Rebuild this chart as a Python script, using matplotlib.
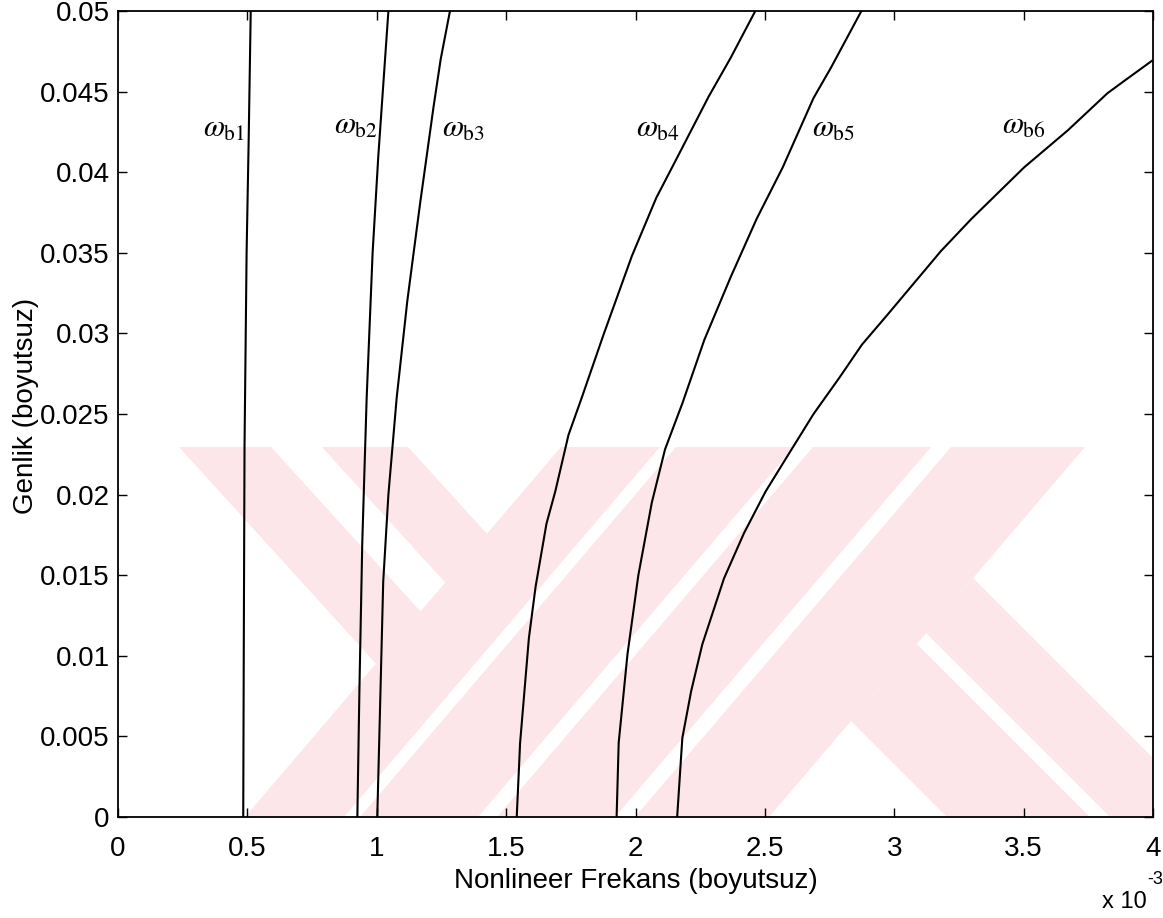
import numpy as np
import matplotlib
matplotlib.use('Agg')
import matplotlib.pyplot as plt
from matplotlib.patches import Polygon

plt.rcParams['font.family'] = ['Liberation Sans', 'DejaVu Sans']
plt.rcParams['mathtext.fontset'] = 'stix'

# nonlinear frequency (x 1e-3) against amplitude, one branch per mode
amp_b1 = [0.0, 0.010, 0.023, 0.035, 0.042, 0.050]
frq_b1 = [0.484, 0.486, 0.489, 0.497, 0.505, 0.513]

amp_b2 = [0.0, 0.0079, 0.0170, 0.0260, 0.0350, 0.0410, 0.0470, 0.050]
frq_b2 = [0.925, 0.933, 0.944, 0.961, 0.984, 1.006, 1.032, 1.045]

amp_b3 = [0.0, 0.0050, 0.0146, 0.0200, 0.0260, 0.0320, 0.0380, 0.0440, 0.0470, 0.050]
frq_b3 = [1.002, 1.010, 1.025, 1.045, 1.077, 1.118, 1.167, 1.219, 1.247, 1.283]

amp_b4 = [0.0, 0.0046, 0.0111, 0.0143, 0.0182, 0.0202, 0.0237, 0.0260, 0.0299,
          0.0348, 0.0384, 0.0410, 0.0447, 0.0471, 0.050]
frq_b4 = [1.541, 1.554, 1.588, 1.614, 1.656, 1.690, 1.741, 1.792, 1.876,
          1.986, 2.080, 2.164, 2.283, 2.368, 2.463]

amp_b5 = [0.0, 0.0046, 0.0101, 0.0150, 0.0195, 0.0228, 0.0257, 0.0296, 0.0335,
          0.0371, 0.0403, 0.0446, 0.0465, 0.050]
frq_b5 = [1.927, 1.935, 1.969, 2.011, 2.063, 2.114, 2.182, 2.266, 2.368,
          2.468, 2.569, 2.688, 2.756, 2.873]

amp_b6 = [0.0, 0.0049, 0.0078, 0.0107, 0.0148, 0.0176, 0.0202, 0.0228, 0.0250,
          0.0273, 0.0293, 0.0312, 0.0351, 0.0371, 0.0403, 0.0426, 0.0449, 0.0457, 0.0469]
frq_b6 = [2.161, 2.181, 2.215, 2.258, 2.342, 2.419, 2.503, 2.603, 2.688,
          2.790, 2.875, 2.976, 3.180, 3.298, 3.502, 3.671, 3.824, 3.892, 3.995]

branch_names = ['b1', 'b2', 'b3', 'b4', 'b5', 'b6']
label_x = [0.41, 0.92, 1.335, 2.085, 2.765, 3.50]
label_y = [0.0427, 0.0429, 0.0427, 0.0427, 0.0427, 0.0429]

x_ticks = [0, 0.5, 1, 1.5, 2, 2.5, 3, 3.5, 4]
y_ticks = np.linspace(0, 0.05, 11)

W, H = 1163, 918
fig = plt.figure(figsize=(W / 100, H / 100), dpi=100)
ax = fig.add_axes([118 / W, 101 / H, 1035 / W, 806 / H])

# --- background logo: double stripes, pixel coords with y from the top ---
TOP, BOT = 447, 817
K = (BOT - TOP) / 316.0      # steepness of the rising stripes


def rise_top(xb):
    # top end of a rising stripe edge that starts at (xb, BOT)
    return xb + (BOT - TOP) / K


def meet_from_top(xt, s, xb):
    # falling edge from (xt, TOP) hits rising edge from (xb, BOT)
    x = ((BOT - TOP) + K * xb + s * xt) / (s + K)
    return (x, TOP + s * (x - xt))


def meet_from_bot(xf, s, xb):
    # falling edge through (xf, BOT) hits rising edge from (xb, BOT)
    x = (K * xb + s * xf) / (s + K)
    return (x, BOT + s * (x - xf))


rising = [(245, 344), (360, 478), (497, 615), (635, 769)]
stripes = [[(a, BOT), (b, BOT), (rise_top(b), TOP), (rise_top(a), TOP)]
           for a, b in rising]

# short falling arm on the left, ends on the first rising stripe
for xa, xb in [(179, 271), (322, 408)]:
    stripes.append([(xa, TOP), (xb, TOP), meet_from_top(xb, 1.1, 245),
                    meet_from_top(xa, 1.1, 245)])

# falling arm on the right, leaves the last rising stripe
stripes.append([meet_from_bot(947, 1.0, 769), meet_from_bot(1090, 1.0, 769),
                (1090, BOT), (947, BOT)])
p_lo = meet_from_bot(1110, 1.0, 769)
p_hi = meet_from_bot(1212, 1.0, 769)
stripes.append([p_lo, p_hi, (1212 + 60, BOT + 60), (1110, BOT)])

pink = '#fce6ea'
for pts in stripes:
    poly = Polygon([(px / W, 1 - py / H) for px, py in pts], closed=True,
                   transform=fig.transFigure, facecolor=pink, edgecolor='none', zorder=0)
    poly.set_clip_path(ax.patch)
    ax.add_patch(poly)

branches = [(frq_b1, amp_b1), (frq_b2, amp_b2), (frq_b3, amp_b3),
            (frq_b4, amp_b4), (frq_b5, amp_b5), (frq_b6, amp_b6)]
for f, a in branches:
    ax.plot(f, a, color='black', lw=1.5, zorder=3)

for name, lx, ly in zip(branch_names, label_x, label_y):
    ax.text(lx, ly, r'$\omega_{\mathrm{%s}}$' % name, fontsize=22,
            ha='center', va='center', zorder=4)

ax.set_xlim(0, 4)
ax.set_ylim(0, 0.05)
ax.set_xticks(x_ticks)
ax.set_xticklabels(['%g' % t for t in x_ticks])
ax.set_yticks(y_ticks)
ax.set_yticklabels(['%g' % round(t, 3) for t in y_ticks])
ax.tick_params(direction='in', top=True, right=True, length=6.5, width=1,
               labelsize=20, pad=6)
ax.tick_params(axis='x', pad=14)
for sp in ax.spines.values():
    sp.set_linewidth(1.3)

ax.set_xlabel('Nonlineer Frekans (boyutsuz)', fontsize=20, labelpad=4)
ax.set_ylabel('Genlik (boyutsuz)', fontsize=20, va='center')
ax.yaxis.set_label_coords(-92 / 1035, 0.51)

# exponent of the x axis, written out by hand
fig.text(1147 / W, 1 - 902 / H, 'x 10', fontsize=17, ha='right', va='center')
fig.text(1147 / W, 1 - 880 / H, '-3', fontsize=13, ha='left', va='center')

fig.savefig('out.png', dpi=100)
